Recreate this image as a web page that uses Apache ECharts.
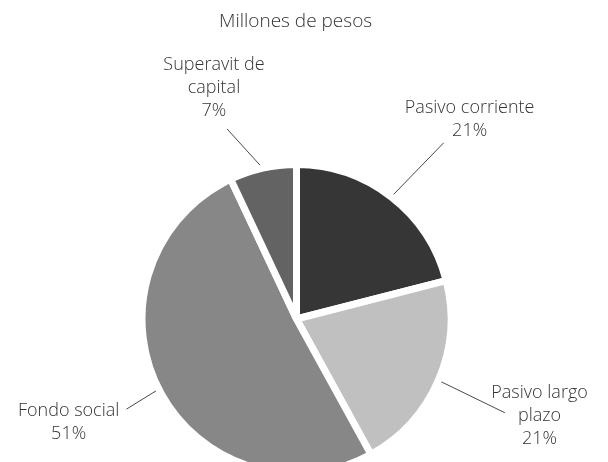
<!DOCTYPE html>
<html>
<head>
<meta charset="utf-8">
<script src="https://cdn.jsdelivr.net/npm/echarts@6/dist/echarts.min.js"></script>
<style>
  html, body { margin: 0; padding: 0; background: #fff; }
  #chart { width: 608px; height: 462px; }
</style>
</head>
<body>
<div id="chart"></div>
<script>
// Composition of liabilities and equity (share of total, %)
const categories = ['Pasivo corriente', 'Pasivo largo plazo', 'Fondo social', 'Superavit de capital'];
const shares = [21, 21, 51, 7];
const sliceColors = ['#363636', '#c0c0c0', '#878787', '#636363'];

// Label text broken over lines
const labelNames = ['Pasivo corriente', 'Pasivo largo\nplazo', 'Fondo social', 'Superavit de\ncapital'];
// Leader line length per slice, label offset from the line end,
// and where the leader meets the label box (fraction of width / height)
const leaderLength = [66, 70, 35, 45];
const labelOffset = [[38, -25], [37, 8], [-59, 17], [-39, -36]];
const leaderAnchor = [[0.30, 1.0], [0.14, 0.45], [1.07, 0.22], [0.63, 1.09]];

const chart = echarts.init(document.getElementById('chart'), null, { renderer: 'canvas' });

const FONT = '"Open Sans", Lato, sans-serif';

chart.setOption({
  animation: false,
  backgroundColor: '#ffffff',
  title: {
    text: 'Millones de pesos',
    left: 214,
    top: 7,
    textStyle: { fontFamily: FONT, fontSize: 19, fontWeight: 300, color: '#333333' }
  },
  series: [{
    type: 'pie',
    center: [296.5, 319],
    radius: 154.5,
    startAngle: 90,
    clockwise: true,
    avoidLabelOverlap: false,
    itemStyle: { borderColor: '#ffffff', borderWidth: 7 },
    label: {
      show: true,
      position: 'outside',
      fontFamily: FONT,
      fontSize: 18,
      fontWeight: 300,
      lineHeight: 23,
      color: '#333333',
      formatter: p => labelNames[p.dataIndex] + '\n' + p.value + '%'
    },
    labelLine: {
      show: true,
      length2: 0,
      lineStyle: { color: '#4a4a4a', width: 1 }
    },
    labelLayout: p => {
      const pts = p.labelLinePoints;
      const start = pts[0];
      const end = pts[pts.length - 1];
      const off = labelOffset[p.dataIndex];
      const anc = leaderAnchor[p.dataIndex];
      const w = p.labelRect.width;
      const h = p.labelRect.height;
      const cx = end[0] + off[0];
      const cy = end[1] + off[1];
      const tip = [cx - w / 2 + anc[0] * w, cy - h / 2 + anc[1] * h];
      return {
        x: cx,
        y: cy,
        align: 'center',
        verticalAlign: 'middle',
        labelLinePoints: [start, tip, tip]
      };
    },
    emphasis: { disabled: true },
    data: categories.map((name, i) => ({
      name: name,
      value: shares[i],
      itemStyle: { color: sliceColors[i] },
      labelLine: { length: leaderLength[i] }
    }))
  }]
});
</script>
</body>
</html>
